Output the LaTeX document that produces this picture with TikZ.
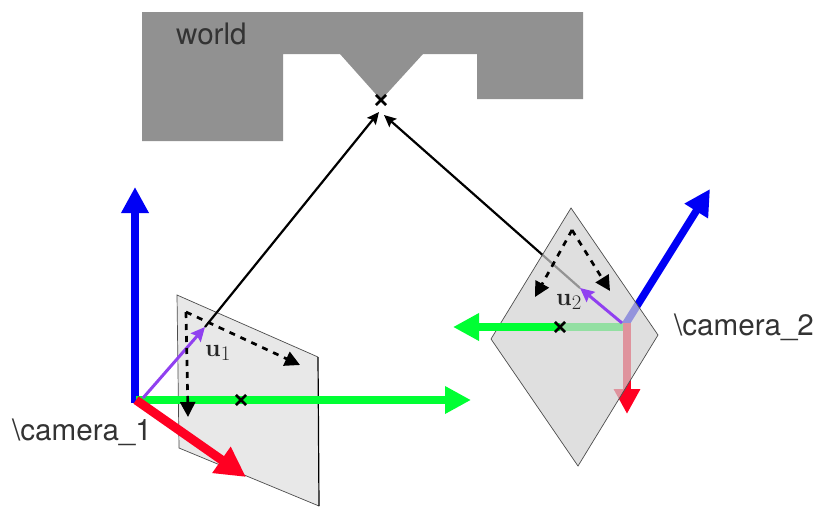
\documentclass[tikz,border=0pt]{standalone}
\usepackage[no-math]{fontspec}
\setmainfont{TeX Gyre Heros}
\usetikzlibrary{arrows.meta,shapes.misc}
\definecolor{worldgray}{HTML}{919191}
\definecolor{planeone}{HTML}{E8E8E8}
\definecolor{planetwo}{HTML}{D2D2D2}
\definecolor{axgreen}{HTML}{00FF33}
\definecolor{axred}{HTML}{FF0022}
\definecolor{axblue}{HTML}{0000F5}
\definecolor{raypurple}{HTML}{9040F0}
\tikzset{
  xmark/.style={draw=black,cross out,line width=2.7pt,minimum size=7.5pt,inner sep=0pt},
  greenax/.style={draw=axgreen,line width=7.5pt,-{Triangle[length=26pt,width=26pt]}},
  blueax/.style={draw=axblue,line width=7.5pt,-{Triangle[length=26pt,width=26pt]}},
  redaxone/.style={draw=axred,line width=9pt,-{Triangle[length=30pt,width=30pt]}},
  redax/.style={draw=axred,line width=7.5pt,-{Triangle[length=25pt,width=25pt]}},
  ray/.style={draw=black,line width=2.2pt,-{Stealth[length=12pt,width=11pt,inset=2pt]}},
  purplearrow/.style={draw=raypurple,line width=3pt,-{Stealth[length=14pt,width=13pt,inset=2pt]}},
  dasharrow/.style={draw=black,line width=2.7pt,dash pattern=on 6pt off 6pt,-{Triangle[length=15pt,width=15pt]}},
  lbl/.style={inner sep=0pt,font=\fontsize{29.6}{32}\selectfont,text=black!80},
  ulbl/.style={inner sep=0pt,anchor=base west,font=\fontsize{31}{33}\selectfont,text=black!85},
}
\begin{document}
\begin{tikzpicture}[x=1pt,y=-1pt]
\useasboundingbox (0,0) rectangle (816,506);
% world
\fill[worldgray] (142,12) -- (583,12) -- (583,99) -- (477,99) -- (477,54) -- (423,54) -- (381,100) -- (340,54) -- (283,54) -- (283,141) -- (142,141) -- cycle;
\node[lbl,anchor=base west] (world) at (176,44) {world};
\node[xmark] (X) at (381,100) {};
\coordinate (Xl) at (379,112);
\coordinate (Xr) at (384,115);
% camera 1
\coordinate (O1) at (136,400);
\coordinate (U1) at (205,327);
\fill[planeone] (177,295) -- (318,357) -- (319,506) -- (179,448) -- cycle;
\draw[black!70,line width=.7pt] (319,506) -- (179,448) -- (177,295) -- (318,357);
\draw[black,line width=1.2pt] (318,357) -- (319,506);
\draw[blueax] (135,403) -- (135,187);
\draw[greenax] (O1) -- (471,400);
\draw[redaxone] (O1) -- (246,477);
\draw[purplearrow] (143,398) -- (U1);
\draw[ray] (U1) -- (Xl);
\coordinate (C1) at (186,312);
\coordinate (D1a) at (188,417);
\coordinate (D1b) at (300,365);
\draw[dasharrow] (C1) -- (D1a);
\draw[dasharrow] (C1) -- (D1b);
\node[xmark] (P1) at (241,400) {};
\node[ulbl] (u1) at (205,356) {$\mathbf{u}_1$};
\node[lbl,anchor=base west] (cam1) at (12,440) {\textbackslash camera\_1};
% camera 2
\coordinate (O2) at (625,325);
\coordinate (U2) at (580,288);
\draw[blueax] (O2) -- (710,189);
\draw[draw=axgreen,line width=7.5pt] (627,327) -- (560,327);
\draw[redax] (627,323) -- (627,414);
\draw[ray] (U2) -- (Xr);
\fill[planetwo,fill opacity=.7] (571,208) -- (658,335) -- (578,466) -- (491,339) -- cycle;
\draw[black!70,line width=.7pt] (571,208) -- (658,335) -- (578,466) -- (491,339) -- cycle;
\coordinate (P2c) at (560,327);
\draw[greenax] (P2c) -- (453,327);
\draw[purplearrow] (622,323) -- (U2);
\coordinate (C2) at (572,230);
\coordinate (D2a) at (535,297);
\coordinate (D2b) at (610,291);
\draw[dasharrow] (C2) -- (D2a);
\draw[dasharrow] (C2) -- (D2b);
\node[xmark] (P2) at (P2c) {};
\node[ulbl] (u2) at (556,305) {$\mathbf{u}_2$};
\node[lbl,anchor=base west] (cam2) at (674,335) {\textbackslash camera\_2};
\end{tikzpicture}
\end{document}
